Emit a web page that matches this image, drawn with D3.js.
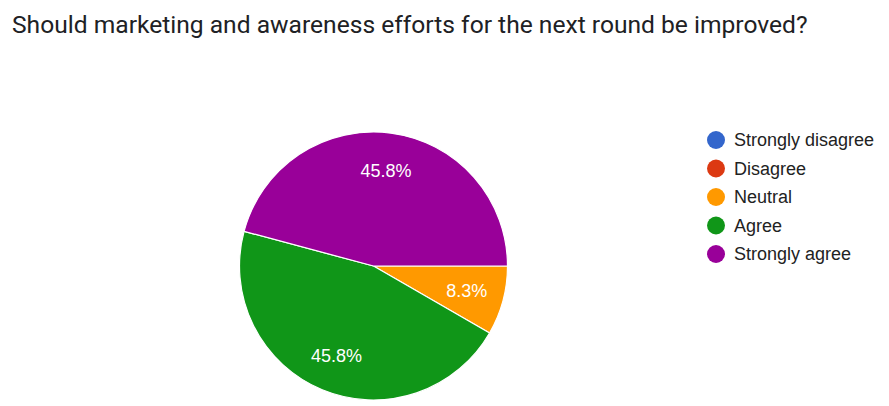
<!DOCTYPE html>
<html>
<head>
<meta charset="utf-8">
<script src="https://cdn.jsdelivr.net/npm/d3@7"></script>
<style>
  html, body { margin: 0; padding: 0; background: #fff; }
  svg { display: block; }
</style>
</head>
<body>
<svg id="chart" width="889" height="406"></svg>
<script>
const title = "Should marketing and awareness efforts for the next round be improved?";
const categories = ["Strongly disagree", "Disagree", "Neutral", "Agree", "Strongly agree"];
const counts = [0, 0, 2, 11, 11];
const colors = ["#3366cc", "#dc3912", "#ff9900", "#109618", "#990099"];

const svg = d3.select("#chart");
const W = 889, H = 406;
const cx = 373.5, cy = 266, R = 134;

svg.append("text")
  .attr("x", 12).attr("y", 33)
  .attr("font-family", "Roboto, sans-serif")
  .attr("font-size", 24.6)
  .attr("fill", "#202124")
  .text(title);

const data = categories.map((c, i) => ({ name: c, value: counts[i], color: colors[i] }));
const total = d3.sum(counts);

const pie = d3.pie()
  .value(d => d.value)
  .sort(null)
  .startAngle(Math.PI / 2)
  .endAngle(Math.PI / 2 + 2 * Math.PI);

const arcs = pie(data).filter(a => a.value > 0);
const arc = d3.arc().innerRadius(0).outerRadius(R);
const labelArc = d3.arc().innerRadius(R * 0.72).outerRadius(R * 0.72);

const g = svg.append("g").attr("transform", `translate(${cx},${cy})`);
g.selectAll("path").data(arcs).enter().append("path")
  .attr("d", arc)
  .attr("fill", d => d.data.color)
  .attr("stroke", "#fff")
  .attr("stroke-width", 1.2);

g.selectAll("text.lbl").data(arcs).enter().append("text")
  .attr("class", "lbl")
  .attr("transform", d => `translate(${labelArc.centroid(d)})`)
  .attr("text-anchor", "middle")
  .attr("dy", "0.36em")
  .attr("font-family", "'Liberation Sans', Arial, sans-serif")
  .attr("font-size", 18)
  .attr("fill", "#fff")
  .text(d => (d.value / total * 100).toFixed(1) + "%");

const legend = svg.append("g");
const ly = d3.scalePoint().domain(categories).range([140, 254]);
const items = legend.selectAll("g").data(data).enter().append("g")
  .attr("transform", d => `translate(716,${ly(d.name)})`);
items.append("circle").attr("r", 9).attr("fill", d => d.color);
items.append("text")
  .attr("x", 18).attr("dy", "0.36em")
  .attr("font-family", "'Liberation Sans', Arial, sans-serif")
  .attr("font-size", 18)
  .attr("fill", "#222")
  .text(d => d.name);
</script>
</body>
</html>
